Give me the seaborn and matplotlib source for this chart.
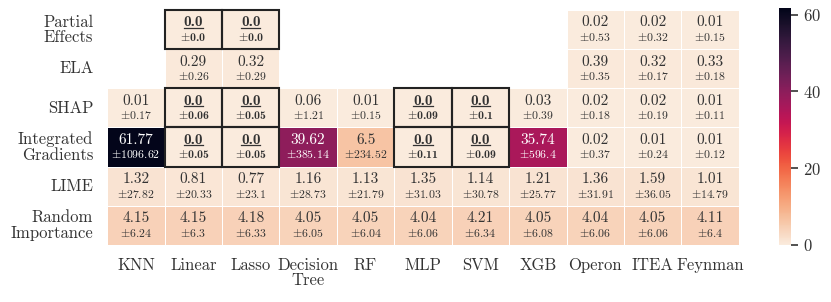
import numpy as np
import pandas as pd
import matplotlib.pyplot as plt
import seaborn as sns
from matplotlib.patches import Rectangle

methods = ["Partial\nEffects", "ELA", "SHAP", "Integrated\nGradients", "LIME",
           "Random\nImportance"]
models = ["KNN", "Linear", "Lasso", "Decision\nTree", "RF", "MLP", "SVM", "XGB",
          "Operon", "ITEA", "Feynman"]

nan = np.nan
partial_mean = [nan, 0.0, 0.0, nan, nan, nan, nan, nan, 0.02, 0.02, 0.01]
partial_std = [nan, 0.0, 0.0, nan, nan, nan, nan, nan, 0.53, 0.32, 0.15]
ela_mean = [nan, 0.29, 0.32, nan, nan, nan, nan, nan, 0.39, 0.32, 0.33]
ela_std = [nan, 0.26, 0.29, nan, nan, nan, nan, nan, 0.35, 0.17, 0.18]
shap_mean = [0.01, 0.0, 0.0, 0.06, 0.01, 0.0, 0.0, 0.03, 0.02, 0.02, 0.01]
shap_std = [0.17, 0.06, 0.05, 1.21, 0.15, 0.09, 0.1, 0.39, 0.18, 0.19, 0.11]
ig_mean = [61.77, 0.0, 0.0, 39.62, 6.5, 0.0, 0.0, 35.74, 0.02, 0.01, 0.01]
ig_std = [1096.62, 0.05, 0.05, 385.14, 234.52, 0.11, 0.09, 596.4, 0.37, 0.24, 0.12]
lime_mean = [1.32, 0.81, 0.77, 1.16, 1.13, 1.35, 1.14, 1.21, 1.36, 1.59, 1.01]
lime_std = [27.82, 20.33, 23.1, 28.73, 21.79, 31.03, 30.78, 25.77, 31.91, 36.05, 14.79]
rand_mean = [4.15, 4.15, 4.18, 4.05, 4.05, 4.04, 4.21, 4.05, 4.04, 4.05, 4.11]
rand_std = [6.24, 6.3, 6.33, 6.05, 6.04, 6.06, 6.34, 6.08, 6.06, 6.06, 6.4]

means = pd.DataFrame([partial_mean, ela_mean, shap_mean, ig_mean, lime_mean, rand_mean],
                     index=methods, columns=models)
stds = pd.DataFrame([partial_std, ela_std, shap_std, ig_std, lime_std, rand_std],
                    index=methods, columns=models)

plt.rcParams["font.family"] = "serif"
plt.rcParams["font.serif"] = ["cmr10"]
plt.rcParams["mathtext.fontset"] = "cm"
plt.rcParams["axes.formatter.use_mathtext"] = True

TEXT = "#333333"

fig = plt.figure(figsize=(8.31, 3.02), dpi=100)
ax = fig.add_axes([0.129, 0.189, 0.760, 0.778])
cax = fig.add_axes([0.9375, 0.189, 0.0145, 0.785])

cmap = sns.color_palette("rocket_r", as_cmap=True)
vmax = np.nanmax(means.values)
sns.heatmap(means, ax=ax, cbar_ax=cax, cmap=cmap, vmin=0, vmax=vmax,
            linewidths=0.6, linecolor="white", annot=False)

for i in range(len(methods)):
    for j in range(len(models)):
        m = means.iat[i, j]
        s = stds.iat[i, j]
        if np.isnan(m):
            continue
        r, g, b, _ = cmap(m / vmax)
        lum = 0.299 * r + 0.587 * g + 0.114 * b
        color = "white" if lum < 0.5 else TEXT
        best = m == 0
        fam = "cmb10" if best else "cmr10"
        ax.text(j + 0.5, i + 0.32, str(m), ha="center", va="center",
                fontsize=11, color=color, family=fam)
        ax.text(j + 0.5, i + 0.69, r"$\pm$" + str(s), ha="center",
                va="center", fontsize=8.5, color=color, family=fam)
        if best:
            ax.plot([j + 0.33, j + 0.67], [i + 0.46, i + 0.46], color=color, lw=0.9)
            ax.add_patch(Rectangle((j, i), 1, 1, fill=False, edgecolor="#222222",
                                   lw=1.5, zorder=5, clip_on=False))

ax.set_xlabel("")
ax.set_ylabel("")
ax.tick_params(length=0, labelsize=12, pad=10, labelcolor=TEXT)
ax.tick_params(axis="x", pad=9)
ax.set_xticklabels(models, rotation=0, linespacing=1.0)
ax.set_yticklabels(methods, rotation=0, linespacing=1.0)

cax.set_yticks([0, 20, 40, 60])
cax.tick_params(labelsize=12, length=5, width=1.2, color=TEXT, labelcolor=TEXT)

fig.savefig("out.png", dpi=100)
